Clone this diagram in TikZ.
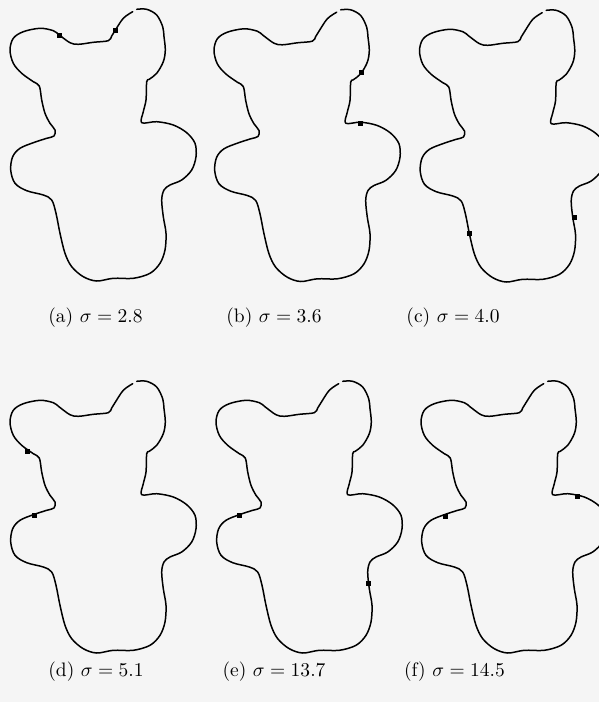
\documentclass[tikz,border=0pt]{standalone}
\begin{document}
\begin{tikzpicture}[x=1pt,y=-1pt,
  outline/.style={line width=1.5pt, line join=round, line cap=round},
  sqmark/.style={rectangle, fill=black, draw=none, minimum size=5pt, inner sep=0pt},
  caption/.style={font=\normalsize, scale=1.95, inner sep=0pt},
  bear/.pic={
    \draw[outline] plot[smooth, tension=0.55] coordinates {
      (136.7,9.3) (146.7,9.3) (156.7,15) (162.7,26.7) (164,36.7) (165.3,50)
      (163.3,61.7) (156.7,73.3) (149.3,79.3) (146.7,81.7) (146,100) (143.3,111.7)
      (141.7,122.7) (156.7,121.7) (173.3,125) (186.7,132.7) (195,143.3) (196,156.7)
      (191.7,170) (181.7,180) (170,185) (164,190) (161.7,200) (163.3,216.7)
      (166,233.3) (165,250) (160,263.3) (150,273.3) (133.3,278.3) (113.3,278.3)
      (96.7,281) (83.3,276.7) (71.7,266.7) (65,253.3) (60,233.3) (56,213.3)
      (51.7,200) (43.3,195) (26.7,190.7) (15,183.3) (10.7,170) (12.7,156.7)
      (20,148.3) (33.3,142.7) (46.7,138.3) (54,136) (55,130) (50,123.3)
      (45,113.3) (41.7,100) (39.3,86) (33.3,81.7) (21.7,73.3) (13.3,63.3)
      (10,50) (13.3,38.3) (23.3,31.7) (40,28.3) (53.3,30.7) (59.3,35)
      (70,42.7) (78.3,44.3) (93.3,42.3) (108.3,40.7) (111.7,36) (115,30.7)
      (123.3,18.3) (132.7,11.7)};
  }]
\path[use as bounding box, fill=black!4] (0,0) rectangle (599,702);

% (a)
\begin{scope}[shift={(0,0)}]
  \pic {bear};
  \node[sqmark] (a1) at (59.3,35) {};
  \node[sqmark] (a2) at (115,30.7) {};
\end{scope}
% (b)
\begin{scope}[shift={(204,0.5)}]
  \pic {bear};
  \node[sqmark] (b1) at (157,72.2) {};
  \node[sqmark] (b2) at (156.7,122.8) {};
\end{scope}
% (c)
\begin{scope}[shift={(409.5,1)}]
  \pic {bear};
  \node[sqmark] (c1) at (59.7,232.3) {};
  \node[sqmark] (c2) at (164.7,216.3) {};
\end{scope}
% (d)
\begin{scope}[shift={(0,372)}]
  \pic {bear};
  \node[sqmark] (d1) at (27.7,79) {};
  \node[sqmark] (d2) at (34.7,143) {};
\end{scope}
% (e)
\begin{scope}[shift={(206,372)}]
  \pic {bear};
  \node[sqmark] (e1) at (33.3,143.3) {};
  \node[sqmark] (e2) at (162.3,211.7) {};
\end{scope}
% (f)
\begin{scope}[shift={(411,372)}]
  \pic {bear};
  \node[sqmark] (f1) at (34,144) {};
  \node[sqmark] (f2) at (166,124) {};
\end{scope}

\node[caption] (capa) at (95.5,318) {(a) $\sigma = 2.8$};
\node[caption] (capb) at (274,318) {(b) $\sigma = 3.6$};
\node[caption] (capc) at (453,318) {(c) $\sigma = 4.0$};
\node[caption] (capd) at (96,672) {(d) $\sigma = 5.1$};
\node[caption] (cape) at (274,672) {(e) $\sigma = 13.7$};
\node[caption] (capf) at (454.5,672) {(f) $\sigma = 14.5$};
\end{tikzpicture}
\end{document}
